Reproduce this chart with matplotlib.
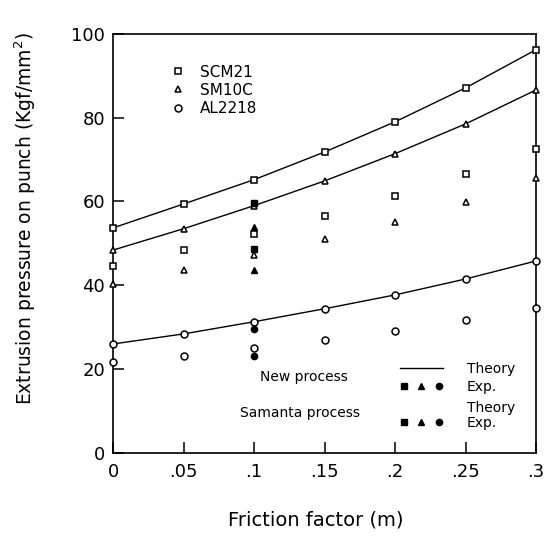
import matplotlib
matplotlib.use("Agg")
import matplotlib.pyplot as plt
from matplotlib.lines import Line2D
from matplotlib.legend_handler import HandlerTuple

# friction factor values
m = [0, 0.05, 0.1, 0.15, 0.2, 0.25, 0.3]

# new process, theory (lines)
scm21_new = [53.7, 59.4, 65.2, 71.8, 79.0, 87.1, 96.2]
sm10c_new = [48.4, 53.5, 59.0, 64.9, 71.4, 78.5, 86.6]
al2218_new = [26.0, 28.4, 31.3, 34.4, 37.7, 41.5, 45.8]

# samanta process, theory (open markers)
scm21_sam = [44.6, 48.4, 52.3, 56.6, 61.3, 66.6, 72.6]
sm10c_sam = [40.3, 43.7, 47.3, 51.1, 55.2, 59.9, 65.6]
al2218_sam = [21.7, 23.1, 25.0, 27.0, 29.1, 31.7, 34.6]

# experiments at m = 0.1
m_exp = [0.1]
scm21_exp_new = [59.7]
sm10c_exp_new = [53.9]
al2218_exp_new = [29.6]
scm21_exp_sam = [48.7]
sm10c_exp_sam = [43.7]
al2218_exp_sam = [23.1]

materials = ["SCM21", "SM10C", "AL2218"]
markers = ["s", "^", "o"]

xticks = [0, 0.05, 0.1, 0.15, 0.2, 0.25, 0.3]
xticklabels = ["0", ".05", ".1", ".15", ".2", ".25", ".3"]
yticks = [0, 20, 40, 60, 80, 100]

fig = plt.figure(figsize=(5.47, 5.36), dpi=100)
ax = fig.add_axes([0.207, 0.155, 0.773, 0.782])

new_sets = [scm21_new, sm10c_new, al2218_new]
sam_sets = [scm21_sam, sm10c_sam, al2218_sam]
exp_new = [scm21_exp_new, sm10c_exp_new, al2218_exp_new]
exp_sam = [scm21_exp_sam, sm10c_exp_sam, al2218_exp_sam]

for ys, mk in zip(new_sets, markers):
    ax.plot(m, ys, color="black", lw=1.0, marker=mk, ms=5, mfc="white",
            mec="black", mew=1.1, clip_on=False, zorder=3)
for ys, mk in zip(sam_sets, markers):
    ax.plot(m, ys, linestyle="none", marker=mk, ms=5, mfc="white",
            mec="black", mew=1.1, clip_on=False, zorder=3)
for ys, mk in zip(exp_new + exp_sam, markers + markers):
    ax.plot(m_exp, ys, linestyle="none", marker=mk, ms=4.5, mfc="black",
            mec="black", clip_on=False, zorder=4)

ax.set_xlim(0, 0.3)
ax.set_ylim(0, 100)
ax.set_xticks(xticks)
ax.set_xticklabels(xticklabels)
ax.set_yticks(yticks)
ax.tick_params(direction="in", length=8, width=1.1, labelsize=13, top=False,
               right=False)
ax.tick_params(axis="x", pad=7)
ax.tick_params(axis="y", pad=6)
for s in ax.spines.values():
    s.set_linewidth(1.2)

ax.set_xlabel("Friction factor (m)", fontsize=14)
ax.xaxis.set_label_coords(0.48, -0.137)
fig.text(0.046, 0.593, "Extrusion pressure on punch (Kgf/mm$^2$)", rotation=90,
         fontsize=13.5, ha="center", va="center")

# material legend
mat_handles = [Line2D([], [], linestyle="none", marker=mk, ms=5, mfc="white",
                      mec="black", mew=1.1) for mk in markers]
leg1 = ax.legend(mat_handles, materials, loc="upper left",
                 bbox_to_anchor=(0.139, 0.926), frameon=False, fontsize=11,
                 borderpad=0, borderaxespad=0, handlelength=0.8,
                 handletextpad=1.0, labelspacing=0.2)
ax.add_artist(leg1)

# process legends
def filled(mk):
    return Line2D([], [], linestyle="none", marker=mk, ms=4.5, mfc="black",
                  mec="black")

exp_handle = tuple(filled(mk) for mk in markers)
theory_line = Line2D([], [], color="black", lw=1.0)
blank = Line2D([], [], linestyle="none")

leg2 = ax.legend([theory_line, exp_handle], ["Theory", "Exp."],
                 loc="upper left", bbox_to_anchor=(0.678, 0.217),
                 frameon=False, fontsize=10, borderpad=0, borderaxespad=0,
                 handlelength=3.1, handletextpad=1.7, labelspacing=0.3,
                 handler_map={tuple: HandlerTuple(ndivide=None, pad=0.6)})
ax.add_artist(leg2)
ax.legend([blank, exp_handle], ["Theory", "Exp."],
          loc="upper left", bbox_to_anchor=(0.678, 0.124),
          frameon=False, fontsize=10, borderpad=0, borderaxespad=0,
          handlelength=3.1, handletextpad=1.7, labelspacing=0.1,
          handler_map={tuple: HandlerTuple(ndivide=None, pad=0.6)})

ax.text(0.348, 0.181, "New process", transform=ax.transAxes, fontsize=10,
        va="center", ha="left")
ax.text(0.300, 0.095, "Samanta process", transform=ax.transAxes, fontsize=10,
        va="center", ha="left")

fig.savefig("out.png", dpi=100)
